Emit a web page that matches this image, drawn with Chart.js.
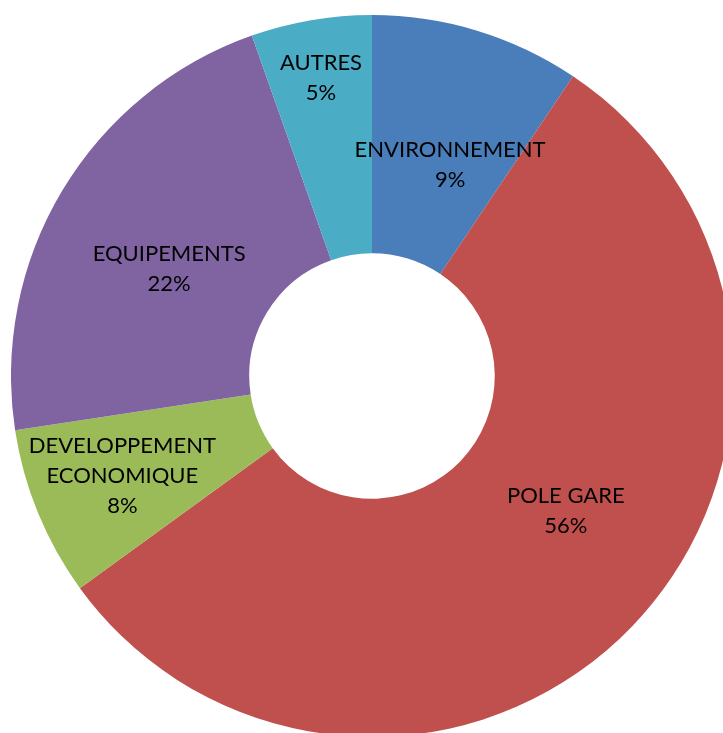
<!DOCTYPE html>
<html>
<head>
<meta charset="utf-8">
<script src="https://cdn.jsdelivr.net/npm/chart.js@4.4.1/dist/chart.umd.min.js"></script>
<style>
  html, body { margin: 0; padding: 0; background: #fff; overflow: hidden; width: 723px; height: 733px; }
  #chart { position: absolute; left: 11px; top: 15px; }
</style>
</head>
<body>
<canvas id="chart" width="722" height="722"></canvas>
<script>
// data (share of budget, %)
const categories = ['ENVIRONNEMENT', 'POLE GARE', 'DEVELOPPEMENT ECONOMIQUE', 'EQUIPEMENTS', 'AUTRES']
const shares = [9.4, 55.6, 7.6, 22.0, 5.4]
const colors = ['#4A7EBB', '#C0504D', '#9BBB59', '#8064A2', '#4BACC6']

// where each label sits inside its slice: radius fraction + angle nudge (deg)
const labelRadius = [0.623, 0.654, 0.745, 0.635, 0.837]
const labelNudge = [3.4, -9.1, 0.5, -3.2, 0]

const wrap = (ctx, text, maxW) => {
  const words = text.split(' ')
  const lines = []
  let cur = ''
  words.forEach(w => {
    const t = cur ? cur + ' ' + w : w
    if (cur && ctx.measureText(t).width > maxW) {
      lines.push(cur)
      cur = w
    } else {
      cur = t
    }
  })
  if (cur) lines.push(cur)
  return lines
}

const sliceLabels = {
  id: 'sliceLabels',
  afterDatasetsDraw(chart) {
    const ctx = chart.ctx
    const meta = chart.getDatasetMeta(0)
    const vals = chart.data.datasets[0].data
    const total = vals.reduce((a, b) => a + b, 0)
    ctx.save()
    ctx.font = '22px Lato'
    ctx.fillStyle = '#000'
    ctx.textAlign = 'center'
    ctx.textBaseline = 'middle'
    meta.data.forEach((arc, i) => {
      const p = arc.getProps(['x', 'y', 'startAngle', 'endAngle', 'outerRadius'], true)
      const mid = (p.startAngle + p.endAngle) / 2 + labelNudge[i] * Math.PI / 180
      const r = p.outerRadius * labelRadius[i]
      const cx = p.x + Math.cos(mid) * r
      const cy = p.y + Math.sin(mid) * r
      const lines = wrap(ctx, chart.data.labels[i], 200)
      lines.push(Math.round(vals[i] / total * 100) + '%')
      const lh = 30
      const y0 = cy - (lines.length - 1) * lh / 2
      lines.forEach((l, k) => ctx.fillText(l, cx, y0 + k * lh))
    })
    ctx.restore()
  }
}

new Chart(document.getElementById('chart'), {
  type: 'doughnut',
  data: {
    labels: categories,
    datasets: [{
      data: shares,
      backgroundColor: colors,
      borderWidth: 0
    }]
  },
  options: {
    responsive: false,
    animation: false,
    cutout: '34%',
    layout: { padding: 0 },
    plugins: {
      legend: { display: false },
      tooltip: { enabled: false }
    }
  },
  plugins: [sliceLabels]
})
</script>
</body>
</html>
